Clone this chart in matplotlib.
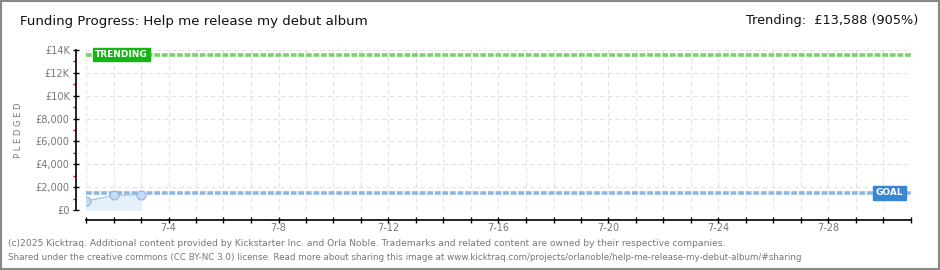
from matplotlib import pyplot as plt
import numpy as np

days = [1, 2, 3]
pledged = [780, 1280, 1350]
goal = 1500
trending = 13588
trend_pct = 905
x_ticks = list(range(1, 32))
x_labels = ["7-%d" % d if d % 4 == 0 else "" for d in x_ticks]
y_major = [0, 2000, 4000, 6000, 8000, 10000, 12000, 14000]
y_labels = ["£0", "£2,000", "£4,000", "£6,000", "£8,000", "£10K", "£12K", "£14K"]
y_minor = [1000, 3000, 5000, 7000, 9000, 11000, 13000]

fig = plt.figure(figsize=(9.4, 2.7), dpi=100)
ax = fig.add_axes([86 / 940, 60 / 270, 825 / 940, 160 / 270])

ax.set_xlim(1, 31)
ax.set_ylim(0, 14000)

# grid
for d in x_ticks:
    ax.axvline(d, color='#e2e2e2', lw=0.8, ls=(0, (4, 3)), zorder=0)
for v in y_major:
    ax.axhline(v, color='#e2e2e2', lw=0.8, ls=(0, (4, 3)), zorder=0)

# goal / trending lines
ax.axhline(goal, color='#8fb6e3', lw=2.6, ls=(0, (1.6, 0.5)), zorder=2)
ax.axhline(trending, color='#77d36a', lw=2.6, ls=(0, (1.6, 0.5)), zorder=2)

# pledged series
ax.fill_between(days, pledged, 0, color='#e6f0fb', zorder=1)
ax.plot(days, pledged, color='#a9c9ef', lw=1, zorder=3)
ax.plot(days, pledged, 'o', ms=6.5, mfc='#c6dcf6', mec='#8fb3e0', mew=0.8, zorder=4)

ax.text(1.33, trending, "TRENDING", color='white', fontsize=6.5, fontweight='bold',
        va='center', ha='left', zorder=5,
        bbox=dict(boxstyle='square,pad=0.25', fc='#14b514', ec='#14b514'))
ax.text(30.72, goal, "GOAL", color='white', fontsize=6.5, fontweight='bold',
        va='center', ha='right', zorder=5,
        bbox=dict(boxstyle='square,pad=0.25', fc='#3a86d6', ec='#3a86d6'))

# axes
for s in ['top', 'right']:
    ax.spines[s].set_visible(False)
ax.spines['left'].set_position(('outward', 7.2))
ax.spines['bottom'].set_position(('outward', 7.2))
ax.spines['left'].set_linewidth(1.2)
ax.spines['bottom'].set_linewidth(1.2)

ax.set_yticks(y_major)
ax.set_yticklabels(y_labels)
ax.set_yticks(y_minor, minor=True)
ax.tick_params(axis='y', which='major', direction='inout', length=5, width=1,
               labelsize=7, labelcolor='#777777', pad=2)
ax.tick_params(axis='y', which='minor', direction='out', length=2.5, width=1, color='#dd0000')
ax.set_xticks(x_ticks)
ax.set_xticklabels(x_labels)
ax.tick_params(axis='x', direction='inout', length=5, width=1,
               labelsize=7, labelcolor='#777777', pad=0)
ax.set_ylabel("P L E D G E D", fontsize=6, color='#777777', labelpad=9)

fig.text(20 / 940, 1 - 22 / 270, "Funding Progress: Help me release my debut album",
         fontsize=9.6, color='#111111', va='center', ha='left')
fig.text(918 / 940, 1 - 21 / 270, "Trending:  £%s (%d%%)" % (format(trending, ','), trend_pct),
         fontsize=9.3, color='#111111', va='center', ha='right')

fig.text(8 / 940, 1 - 243 / 270,
         "(c)2025 Kicktraq. Additional content provided by Kickstarter Inc. and Orla Noble. "
         "Trademarks and related content are owned by their respective companies.",
         fontsize=6.6, color='#777777', va='center', ha='left')
fig.text(8 / 940, 1 - 257 / 270,
         "Shared under the creative commons (CC BY-NC 3.0) license. Read more about sharing this image at "
         "www.kicktraq.com/projects/orlanoble/help-me-release-my-debut-album/#sharing",
         fontsize=6.3, color='#777777', va='center', ha='left')

# outer frame
fig.patches.append(plt.Rectangle((0.001, 0.002), 0.998, 0.995, transform=fig.transFigure,
                                 fill=False, ec='#888888', lw=1.5))

plt.savefig('out.png', dpi=100)
